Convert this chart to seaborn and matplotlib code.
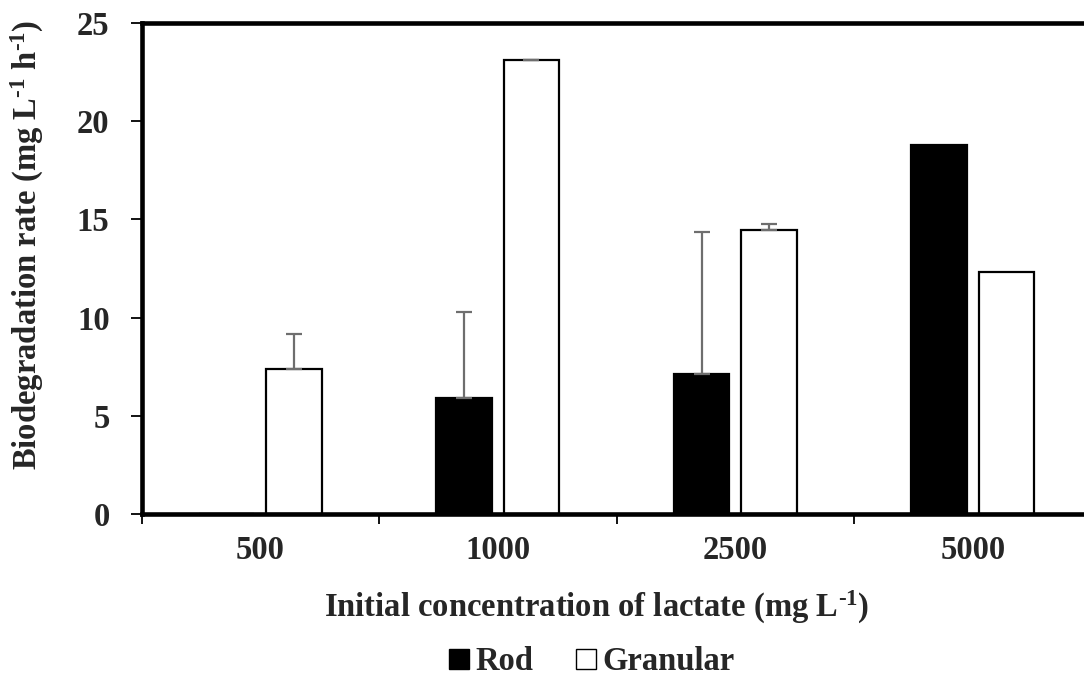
import numpy as np
import pandas as pd
import matplotlib
matplotlib.use("Agg")
import matplotlib.pyplot as plt
from matplotlib.lines import Line2D
import seaborn as sns

# Biodegradation rate (mg L-1 h-1) by initial lactate concentration
concentrations = ["500", "1000", "2500", "5000"]
rod_rate = [0.0, 5.90, 7.13, 18.77]
granular_rate = [7.38, 23.12, 14.46, 12.33]
rod_err = [0.0, 4.40, 7.23, 0.0]
granular_err = [1.78, 0.02, 0.29, 0.0]
series = ["Rod", "Granular"]
y_ticks = [0, 5, 10, 15, 20, 25]

sns.set_theme(style="white")
plt.rcParams["font.family"] = ["Liberation Serif", "DejaVu Serif"]
plt.rcParams["font.weight"] = "bold"
plt.rcParams["mathtext.fontset"] = "custom"
plt.rcParams["mathtext.rm"] = "Liberation Serif:bold"
plt.rcParams["mathtext.it"] = "Liberation Serif:bold:italic"
plt.rcParams["mathtext.bf"] = "Liberation Serif:bold"

FS = 23.5

df = pd.DataFrame({
    "conc": concentrations * 2,
    "rate": rod_rate + granular_rate,
    "type": [series[0]] * 4 + [series[1]] * 4,
})

fig = plt.figure(figsize=(10.84, 6.89), dpi=100)
ax = fig.add_axes([141.5 / 1084, 1 - 514 / 689, 950 / 1084, 491 / 689])

sns.barplot(data=df, x="conc", y="rate", hue="type", order=concentrations,
            hue_order=series, palette={"Rod": "black", "Granular": "white"},
            width=0.568, gap=0.183, edgecolor="black", linewidth=1.6,
            errorbar=None, legend=False, ax=ax)

# Upper-only error bars centred on each bar
for cont, errs in zip(ax.containers, [rod_err, granular_err]):
    for patch, e in zip(cont.patches, errs):
        if e <= 0:
            continue
        xc = patch.get_x() + patch.get_width() / 2
        h = patch.get_height()
        ax.errorbar(xc, h, yerr=[[0], [e]], fmt="none", ecolor="#6e6e6e",
                    elinewidth=1.6, capsize=6, capthick=1.6, zorder=3)

ax.set_xlim(-0.5, 3.5)
ax.set_ylim(0, 25)
ax.set_yticks(y_ticks)
ax.set_yticklabels([str(t) for t in y_ticks], fontsize=FS, fontweight="bold")
ax.set_xticks(range(len(concentrations)))
ax.set_xticklabels(concentrations, fontsize=FS, fontweight="bold")
ax.set_xticks(np.arange(-0.5, 4.0, 1.0), minor=True)
ax.tick_params(axis="x", which="major", length=0, pad=15)
ax.tick_params(axis="x", which="minor", length=7, width=1.3, direction="out",
               color="black", bottom=True)
ax.tick_params(axis="y", which="major", length=8, width=1.3, direction="out",
               color="black", left=True, pad=15)

for side in ["left", "bottom", "top"]:
    ax.spines[side].set_visible(True)
    ax.spines[side].set_linewidth(3.3)
    ax.spines[side].set_color("black")
ax.spines["right"].set_visible(False)

ax.set_xlabel("")
ax.set_ylabel("")
fig.text(597 / 1084, 1 - 607 / 689,
         r"Initial concentration of lactate (mg L$^{\text{-1}}$)",
         ha="center", va="center", fontsize=FS, fontweight="bold")
fig.text(27 / 1084, 1 - 245 / 689,
         r"Biodegradation rate (mg L$^{\text{-1}}$ h$^{\text{-1}}$)",
         ha="center", va="center", rotation=90, fontsize=FS, fontweight="bold")

handles = [
    Line2D([], [], marker="s", linestyle="none", markersize=14,
           markerfacecolor="black", markeredgecolor="black", markeredgewidth=1.0),
    Line2D([], [], marker="s", linestyle="none", markersize=14,
           markerfacecolor="white", markeredgecolor="black", markeredgewidth=1.0),
]
fig.legend(handles, series, loc="center", ncol=2,
           bbox_to_anchor=(591 / 1084, 1 - 662 / 689), frameon=False,
           handlelength=0.75, handletextpad=0.12, columnspacing=1.25,
           prop={"family": "Liberation Serif", "weight": "bold", "size": FS})

fig.savefig("out.png", dpi=100)
